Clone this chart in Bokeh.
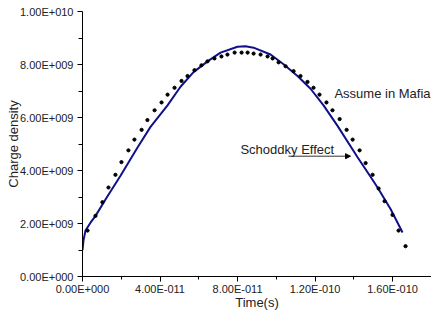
from bokeh.plotting import figure
from bokeh.models import FixedTicker, Label, Arrow, NormalHead, Range1d
from bokeh.embed import file_html
from bokeh.resources import INLINE

# Solid curve (Schoddky effect model)
curve_t = [0.0, 0.052e-11, 0.155e-11, 0.413e-11, 0.671e-11, 1.290e-11, 1.961e-11, 2.839e-11,
           3.510e-11, 4.387e-11, 5.058e-11, 5.729e-11, 6.452e-11, 7.123e-11, 8.000e-11,
           8.413e-11, 8.826e-11, 9.703e-11, 10.374e-11, 11.097e-11, 11.768e-11, 12.439e-11,
           13.161e-11, 14.194e-11, 14.865e-11, 15.226e-11, 15.897e-11, 16.516e-11]
curve_rho = [0.996e9, 1.365e9, 1.734e9, 2.030e9, 2.288e9, 3.026e9, 3.801e9, 4.871e9,
             5.646e9, 6.458e9, 7.159e9, 7.712e9, 8.118e9, 8.450e9, 8.672e9,
             8.690e9, 8.635e9, 8.376e9, 8.007e9, 7.565e9, 7.085e9, 6.458e9,
             5.683e9, 4.502e9, 3.764e9, 3.358e9, 2.546e9, 1.661e9]

# Dotted series (Assume in Mafia)
dot_t = [0.26e-11, 0.67e-11, 1.03e-11, 1.34e-11, 1.70e-11, 2.01e-11, 2.37e-11, 2.68e-11,
         3.05e-11, 3.35e-11, 3.72e-11, 4.08e-11, 4.39e-11, 4.75e-11, 5.11e-11, 5.42e-11,
         5.78e-11, 6.14e-11, 6.45e-11, 6.81e-11, 7.17e-11, 7.48e-11, 7.85e-11, 8.21e-11,
         8.52e-11, 8.83e-11, 9.19e-11, 9.55e-11, 9.81e-11, 10.12e-11, 10.48e-11, 10.89e-11,
         11.25e-11, 11.61e-11, 11.92e-11, 12.23e-11, 12.59e-11, 12.90e-11, 13.27e-11,
         13.63e-11, 13.94e-11, 14.30e-11, 14.61e-11, 14.97e-11, 15.28e-11, 15.59e-11,
         16.00e-11, 16.31e-11, 16.67e-11]
dot_rho = [1.734e9, 2.288e9, 2.804e9, 3.358e9, 3.838e9, 4.317e9, 4.760e9, 5.166e9,
           5.535e9, 5.904e9, 6.273e9, 6.568e9, 6.863e9, 7.122e9, 7.380e9, 7.565e9,
           7.786e9, 7.970e9, 8.118e9, 8.229e9, 8.303e9, 8.376e9, 8.450e9, 8.450e9,
           8.450e9, 8.413e9, 8.376e9, 8.303e9, 8.229e9, 8.081e9, 7.934e9, 7.749e9,
           7.565e9, 7.343e9, 7.122e9, 6.863e9, 6.568e9, 6.273e9, 5.941e9,
           5.535e9, 5.166e9, 4.760e9, 4.280e9, 3.838e9, 3.321e9, 2.841e9,
           2.325e9, 1.734e9, 1.144e9]

x_ticks = [0.0, 4e-11, 8e-11, 1.2e-10, 1.6e-10]
x_tick_labels = ["0.00E+000", "4.00E-011", "8.00E-011", "1.20E-010", "1.60E-010"]
x_minor = [2e-11, 6e-11, 1e-10, 1.4e-10, 1.8e-10]
y_ticks = [0.0, 2e9, 4e9, 6e9, 8e9, 1e10]
y_tick_labels = ["0.00E+000", "2.00E+009", "4.00E+009", "6.00E+009", "8.00E+009", "1.00E+010"]
y_minor = [1e9, 3e9, 5e9, 7e9, 9e9]

FONT = "Liberation Sans"
TXT = "#222222"

p = figure(width=431, height=312, output_backend="svg", toolbar_location=None,
           x_range=Range1d(0, 1.801e-10), y_range=Range1d(0, 1e10),
           min_border_left=82, min_border_right=0, min_border_top=11, min_border_bottom=0)
p.outline_line_color = None
p.grid.visible = False
p.background_fill_color = "white"
p.border_fill_color = "white"

p.line(curve_t, curve_rho, line_color="#10108c", line_width=2)
p.scatter(dot_t, dot_rho, size=3.2, color="black")

p.xaxis.ticker = FixedTicker(ticks=x_ticks, minor_ticks=x_minor)
p.xaxis.major_label_overrides = {t: l for t, l in zip(x_ticks, x_tick_labels)}
p.yaxis.ticker = FixedTicker(ticks=y_ticks, minor_ticks=y_minor)
p.yaxis.major_label_overrides = {t: l for t, l in zip(y_ticks, y_tick_labels)}

for ax in (p.xaxis[0], p.yaxis[0]):
    ax.axis_line_color = "black"
    ax.major_tick_line_color = "black"
    ax.minor_tick_line_color = "black"
    ax.major_tick_in = 0
    ax.major_tick_out = 5
    ax.minor_tick_in = 0
    ax.minor_tick_out = 4
    ax.major_label_text_font = FONT
    ax.major_label_text_font_size = "11px"
    ax.major_label_text_color = TXT
    ax.axis_label_text_font = FONT
    ax.axis_label_text_font_size = "13px"
    ax.axis_label_text_font_style = "normal"
    ax.axis_label_text_color = TXT

p.xaxis.minor_tick_out = 3
p.xaxis.major_label_standoff = 1
p.yaxis.major_label_standoff = 4
p.xaxis.axis_label = "Time(s)"
p.xaxis.axis_label_standoff = -3
p.yaxis.axis_label = "Charge density"
p.yaxis.axis_label_standoff = -4

p.add_layout(Label(x=13.0e-11, y=6.90e9, text="Assume in Mafia", text_font=FONT,
                   text_font_size="13px", text_baseline="middle", text_color=TXT))
p.add_layout(Label(x=8.15e-11, y=4.80e9, text="Schoddky Effect", text_font=FONT,
                   text_font_size="13px", text_baseline="middle", text_color=TXT))
p.add_layout(Arrow(end=NormalHead(size=5, fill_color="black", line_color="black"),
                   x_start=10.63e-11, y_start=4.54e9, x_end=13.83e-11, y_end=4.54e9,
                   line_color="#333333", line_width=1))

open("out.html", "w").write(file_html(p, INLINE))
